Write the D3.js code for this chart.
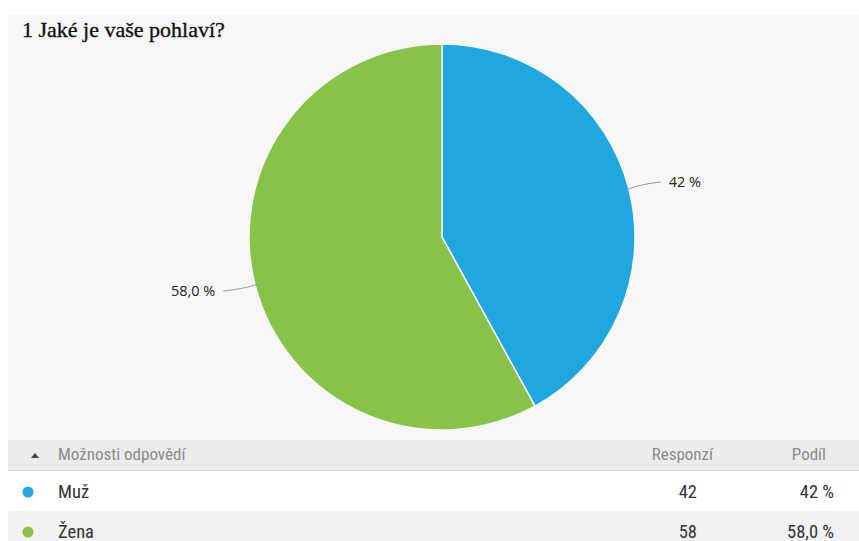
<!DOCTYPE html>
<html><head><meta charset="utf-8">
<script src="https://cdn.jsdelivr.net/npm/d3@7"></script>
<style>
html,body{margin:0;padding:0;background:#fff;}
svg{display:block;}
</style></head>
<body>
<svg id="chart" width="859" height="541"></svg>
<script>
const title = "1 Jaké je vaše pohlaví?";
const categories = ["Muž", "Žena"];
const responses = [42, 58];
const shareLabels = ["42 %", "58,0 %"];
const colors = ["#21a7df", "#88c249"];
const headers = ["Možnosti odpovědí", "Responzí", "Podíl"];

const svg = d3.select("#chart");
svg.append("rect").attr("x", 8).attr("y", 15).attr("width", 851).attr("height", 425).attr("fill", "#f7f7f7");

svg.append("text").attr("x", 22).attr("y", 37)
  .attr("font-family", "Liberation Serif, Times New Roman, serif")
  .attr("font-size", 22).attr("fill", "#111")
  .attr("stroke", "#111").attr("stroke-width", 0.35).text(title);

const cx = 442, cy = 237, r = 193;
const pie = d3.pie().sort(null).value(d => d)(responses);
const arc = d3.arc().innerRadius(0).outerRadius(r);
const g = svg.append("g").attr("transform", `translate(${cx},${cy})`);
g.selectAll("path.slice").data(pie).join("path")
  .attr("class", "slice")
  .attr("d", arc)
  .attr("fill", (d, i) => colors[i])
  .attr("stroke", "#f7f7f7").attr("stroke-width", 1.5);

pie.forEach((d, i) => {
  const a = (d.startAngle + d.endAngle) / 2;
  const sx = Math.sin(a), sy = -Math.cos(a);
  const dir = sx > 0 ? 1 : -1;
  const p0 = [sx * (r - 2), sy * (r - 2)];
  const pe = [sx * (r + 8) + dir * 24, sy * r + (sx > 0 ? -7 : 6)];
  g.append("path")
    .attr("d", `M${p0[0]},${p0[1]} Q${p0[0] + dir * 14},${pe[1] + (sx > 0 ? 2 : -2)} ${pe[0]},${pe[1]}`)
    .attr("fill", "none").attr("stroke", "#999").attr("stroke-width", 1);
  g.append("text")
    .attr("x", pe[0] + dir * 8).attr("y", pe[1] + 5)
    .attr("text-anchor", sx > 0 ? "start" : "end")
    .attr("font-family", "Open Sans, DejaVu Sans, sans-serif")
    .attr("font-size", 14.5).attr("fill", "#222")
    .text(shareLabels[i]);
});

const tf = "Liberation Sans Narrow, Roboto Condensed, Arial Narrow, Liberation Sans, sans-serif";
svg.append("rect").attr("x", 8).attr("y", 440).attr("width", 851).attr("height", 30).attr("fill", "#ececec");
svg.append("line").attr("x1", 8).attr("x2", 859).attr("y1", 470.5).attr("y2", 470.5).attr("stroke", "#dcdcdc");
svg.append("path").attr("d", "M31,458 L35,453 L39,458 Z").attr("fill", "#444");
svg.append("text").attr("x", 58).attr("y", 460).attr("font-family", tf).attr("font-size", 17).attr("fill", "#8a8a8a").text(headers[0]);
svg.append("text").attr("x", 713).attr("y", 460).attr("text-anchor", "end").attr("font-family", tf).attr("font-size", 17).attr("fill", "#8a8a8a").text(headers[1]);
svg.append("text").attr("x", 826).attr("y", 460).attr("text-anchor", "end").attr("font-family", tf).attr("font-size", 17).attr("fill", "#8a8a8a").text(headers[2]);

const rowY = d3.scaleBand().domain(categories).range([471, 551]);
const rows = svg.selectAll("g.row").data(categories).join("g").attr("class", "row")
  .attr("transform", d => `translate(0,${rowY(d)})`);
rows.append("rect").attr("x", 8).attr("width", 851).attr("height", rowY.bandwidth())
  .attr("fill", (d, i) => i % 2 ? "#f2f2f2" : "#ffffff");
rows.append("circle").attr("cx", 28).attr("cy", 21).attr("r", 5.5).attr("fill", (d, i) => colors[i]);
const rowText = sel => sel.attr("font-family", tf).attr("font-size", 18.5).attr("fill", "#333");
rows.append("text").attr("x", 58).attr("y", 26.5).call(rowText).text(d => d);
rows.append("text").attr("x", 697).attr("y", 26.5).attr("text-anchor", "end").call(rowText).text((d, i) => responses[i]);
rows.append("text").attr("x", 834).attr("y", 26.5).attr("text-anchor", "end").call(rowText).text((d, i) => shareLabels[i]);
</script>
</body></html>
